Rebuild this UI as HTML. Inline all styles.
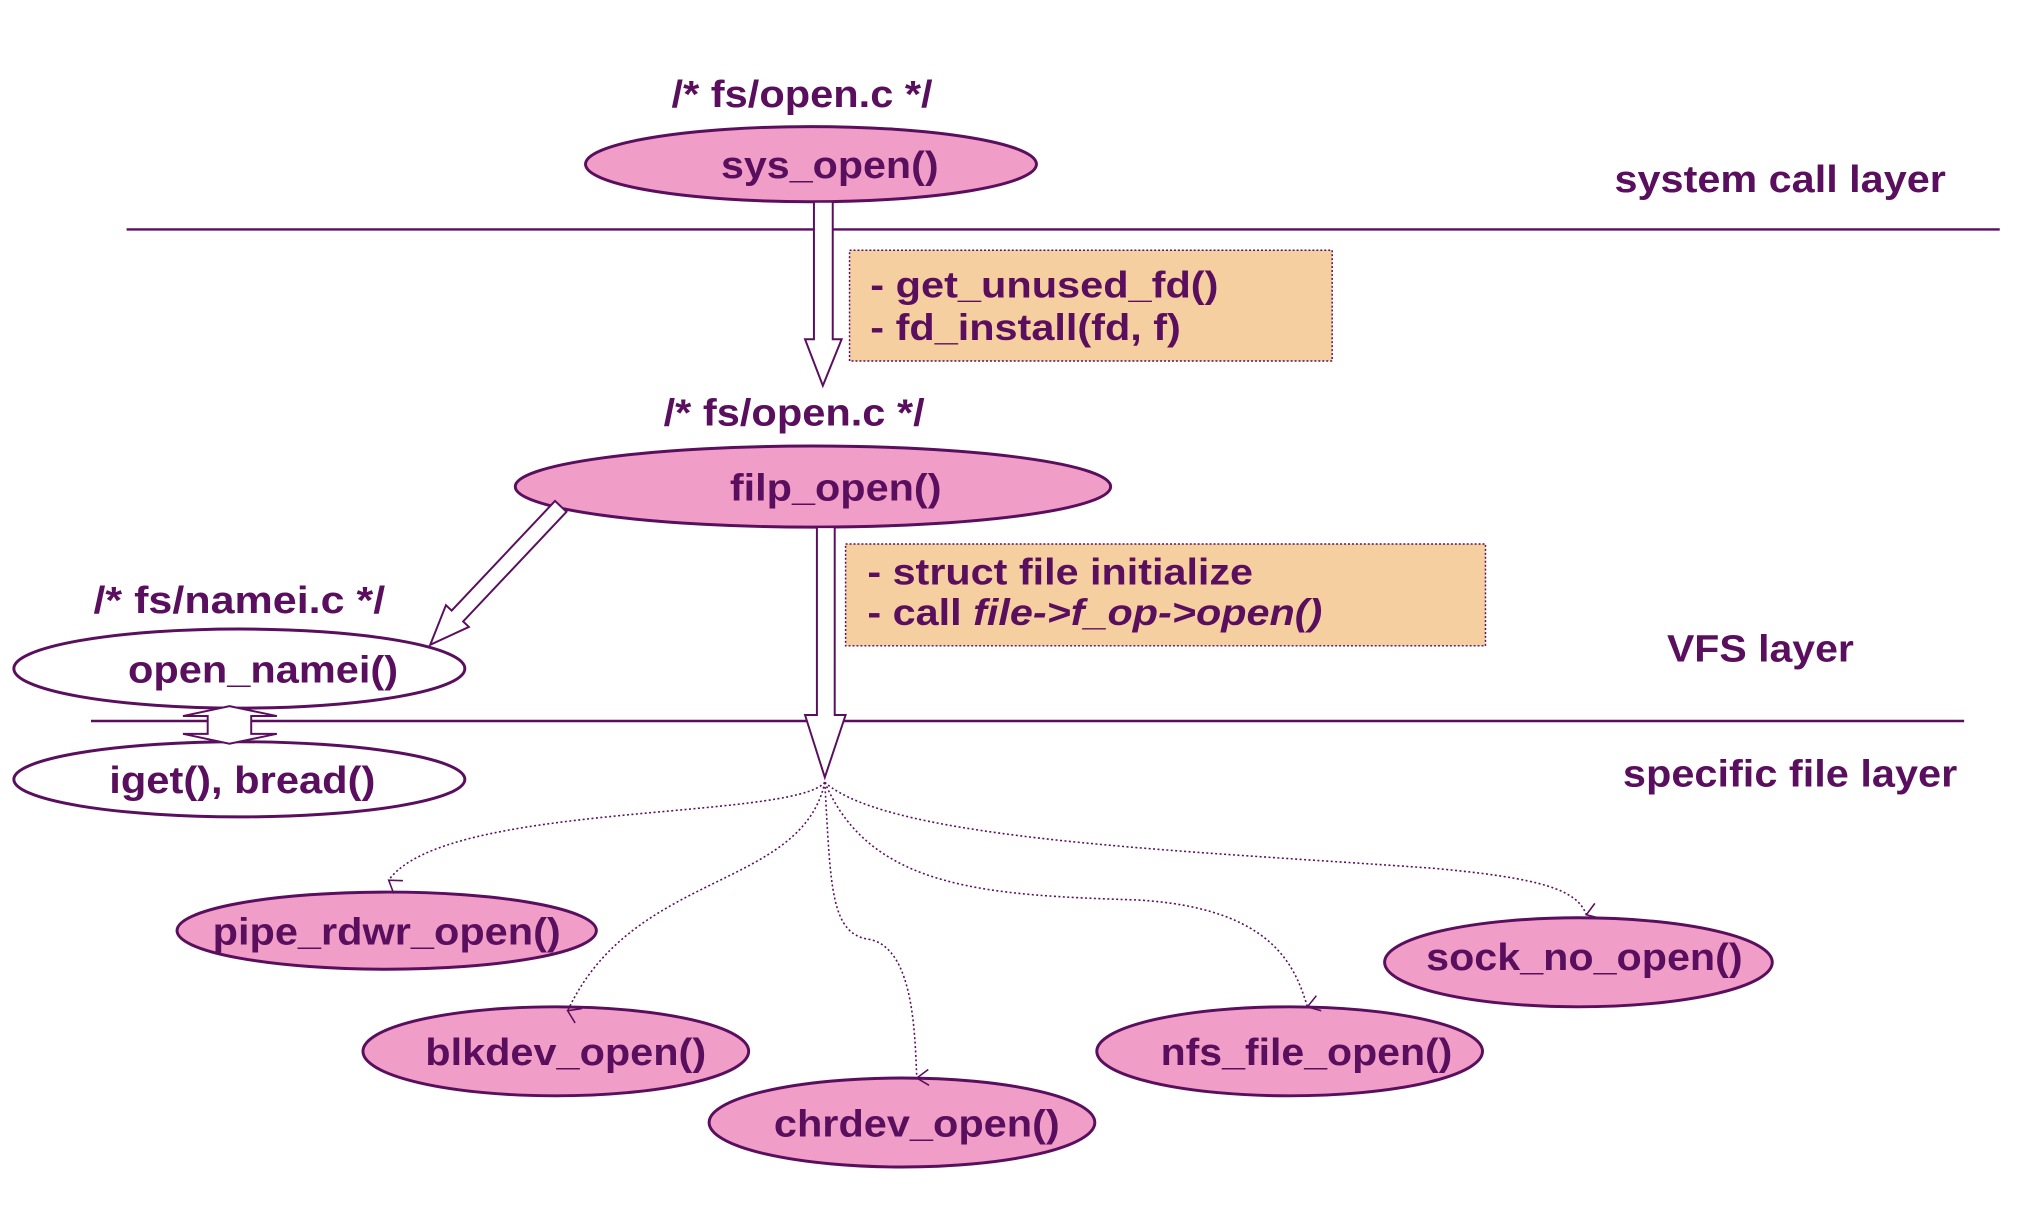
<!DOCTYPE html>
<html><head><meta charset="utf-8"><style>html,body{margin:0;padding:0;background:#fff}svg{display:block}</style></head>
<body>
<svg width="2044" height="1216" viewBox="0 0 2044 1216" xmlns="http://www.w3.org/2000/svg" font-family="'Liberation Sans', Arial, sans-serif" font-weight="bold" fill="#5a0f5e">
<defs>
<marker id="v" markerWidth="20" markerHeight="20" refX="10" refY="16" orient="auto-start-reverse" markerUnits="userSpaceOnUse" viewBox="0 0 20 20">
<polyline points="2,4 10,16 18,4" fill="none" stroke="#5a0f5e" stroke-width="1.6"/>
</marker>
</defs>
<g transform="scale(0.989)">
<g stroke="#5a0f5e" stroke-width="2.5">
<line x1="128" y1="232" x2="2022" y2="232"/>
<line x1="92" y1="729" x2="1986" y2="729"/>
</g>
<rect x="859" y="253" width="488" height="112" fill="#f6cfa0" stroke="#5a0f5e" stroke-width="1.5" stroke-dasharray="2,2"/>
<rect x="855" y="550" width="647" height="103" fill="#f6cfa0" stroke="#5a0f5e" stroke-width="1.5" stroke-dasharray="2,2"/>
<g stroke="#5a0f5e" stroke-width="3">
<ellipse cx="820" cy="166" rx="228" ry="38" fill="#f09ec8"/>
<ellipse cx="822" cy="492" rx="301" ry="41" fill="#f09ec8"/>
<ellipse cx="242" cy="676" rx="228" ry="40" fill="#fff"/>
<ellipse cx="242" cy="788" rx="228" ry="38" fill="#fff"/>
<ellipse cx="391" cy="941" rx="212" ry="39" fill="#f09ec8"/>
<ellipse cx="562" cy="1063" rx="195" ry="45" fill="#f09ec8"/>
<ellipse cx="912" cy="1135" rx="195" ry="45" fill="#f09ec8"/>
<ellipse cx="1304" cy="1063" rx="195" ry="45" fill="#f09ec8"/>
<ellipse cx="1596" cy="973" rx="196" ry="45" fill="#f09ec8"/>
</g>
<g fill="#fff" stroke="#5a0f5e" stroke-width="2">
<polygon points="823,204 823,343 814,343 832,390 851,343 842,343 842,204"/>
<polygon points="826,533 826,723 814,723 834,786 855,723 844,723 844,533"/>
<polygon points="572.8,517.5 468.3,628.4 474.1,633.9 435,652 450.9,611.9 456.7,617.4 561.2,506.5"/>
<polygon points="232,714 280,724 254,724 254,742 280,742 232,752 185,742 210,742 210,724 185,724"/>
</g>
<g fill="none" stroke="#5a0f5e" stroke-width="1.6" stroke-dasharray="2,2.5">
<path d="M834 791 C 800 830, 450 810, 393 890" marker-end="url(#v)"/>
<path d="M834 791 C 810 900, 640 880, 574 1022" marker-end="url(#v)"/>
<path d="M834 791 C 840 900, 840 945, 880 950 C 925 960, 925 1050, 927 1090" marker-end="url(#v)"/>
<path d="M834 791 C 880 900, 1000 905, 1150 910 C 1290 918, 1310 980, 1322 1018" marker-end="url(#v)"/>
<path d="M834 791 C 900 850, 1200 860, 1450 878 C 1560 888, 1595 900, 1604 925" marker-end="url(#v)"/>
</g>
<g font-size="38" text-anchor="middle">
<text x="811" y="108" textLength="264" lengthAdjust="spacingAndGlyphs">/* fs/open.c */</text>
<text x="839" y="180" textLength="220" lengthAdjust="spacingAndGlyphs">sys_open()</text>
<text x="1800" y="194" textLength="335" lengthAdjust="spacingAndGlyphs">system call layer</text>
<text x="803" y="430" textLength="264" lengthAdjust="spacingAndGlyphs">/* fs/open.c */</text>
<text x="845" y="506" textLength="214" lengthAdjust="spacingAndGlyphs">filp_open()</text>
<text x="242" y="620" textLength="295" lengthAdjust="spacingAndGlyphs">/*  fs/namei.c */</text>
<text x="266" y="690" textLength="273" lengthAdjust="spacingAndGlyphs">open_namei()</text>
<text x="1780" y="669" textLength="189" lengthAdjust="spacingAndGlyphs">VFS layer</text>
<text x="245" y="802" textLength="269" lengthAdjust="spacingAndGlyphs">iget(), bread()</text>
<text x="1810" y="795" textLength="338" lengthAdjust="spacingAndGlyphs">specific file layer</text>
<text x="391" y="955" textLength="352" lengthAdjust="spacingAndGlyphs">pipe_rdwr_open()</text>
<text x="572" y="1077" textLength="284" lengthAdjust="spacingAndGlyphs">blkdev_open()</text>
<text x="927" y="1149" textLength="289" lengthAdjust="spacingAndGlyphs">chrdev_open()</text>
<text x="1321" y="1077" textLength="295" lengthAdjust="spacingAndGlyphs">nfs_file_open()</text>
<text x="1602" y="981" textLength="320" lengthAdjust="spacingAndGlyphs">sock_no_open()</text>
</g>
<g font-size="37">
<text x="880" y="301" textLength="352" lengthAdjust="spacingAndGlyphs">- get_unused_fd()</text>
<text x="880" y="344" textLength="314" lengthAdjust="spacingAndGlyphs">- fd_install(fd, f)</text>
<text x="877" y="591" textLength="390" lengthAdjust="spacingAndGlyphs">- struct file initialize</text>
<text x="877" y="632" textLength="460" lengthAdjust="spacingAndGlyphs">- call <tspan font-style="italic">file-&gt;f_op-&gt;open()</tspan></text>
</g>
</g>
</svg>
</body></html>
